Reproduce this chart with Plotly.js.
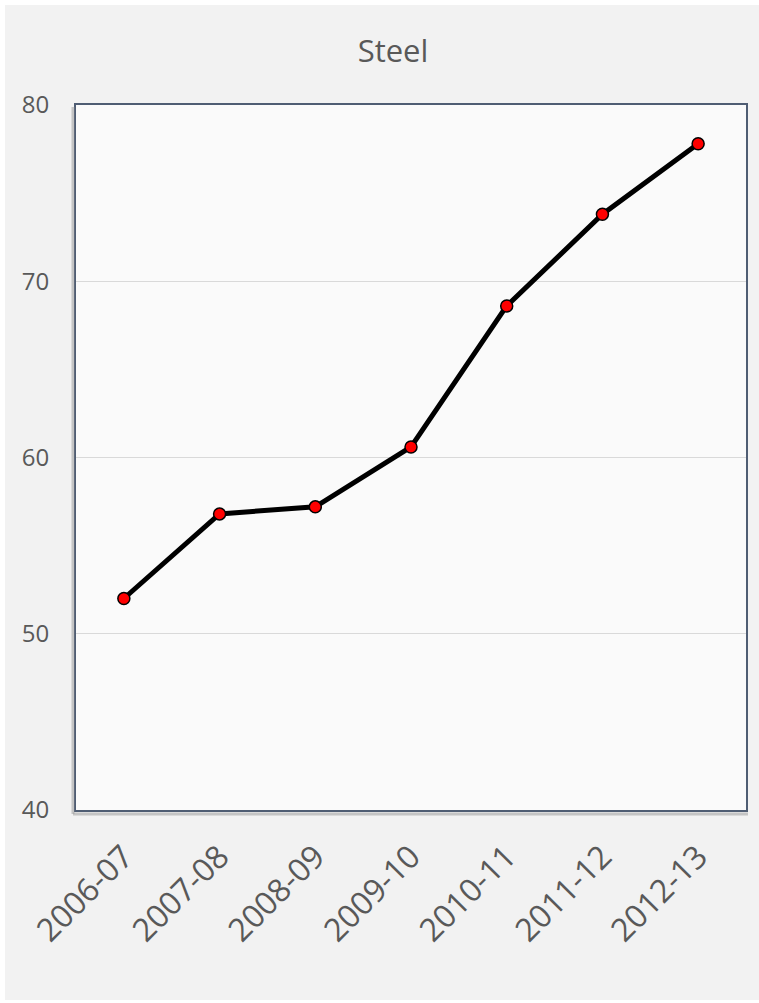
<!DOCTYPE html>
<html><head><meta charset="utf-8">
<script src="https://cdn.plot.ly/plotly-3.0.1.min.js"></script>
<style>
html,body{margin:0;padding:0;background:#ffffff;}
#chart{position:absolute;left:5px;top:5px;width:754px;height:995px;}
</style></head>
<body><div id="chart"></div>
<script>
var categories = ['2006-07','2007-08','2008-09','2009-10','2010-11','2011-12','2012-13'];
var steelValues = [52.0, 56.8, 57.2, 60.6, 68.6, 73.8, 77.8];
var yTickValues = [40, 50, 60, 70, 80];
var chartTitle = 'Steel';

var fontFam = '"Open Sans", sans-serif';
var trace = {
  x: categories, y: steelValues, type: 'scatter', mode: 'lines+markers',
  line: {color: '#000000', width: 5},
  marker: {color: '#ff0000', size: 12, line: {color: '#000000', width: 1.5}},
  cliponaxis: false, hoverinfo: 'skip'
};
var pw = 670, ph = 705;
var layout = {
  width: 754, height: 995,
  paper_bgcolor: '#f2f2f2', plot_bgcolor: '#fafafa',
  margin: {l: 71, r: 13, t: 100, b: 190},
  showlegend: false,
  title: {text: chartTitle, font: {family: fontFam, size: 31, color: '#595959'},
          x: 388/754, xanchor: 'center', y: 1 - 46/995, yanchor: 'middle', yref: 'container', xref: 'container'},
  xaxis: {type: 'category', range: [-0.5, 6.5], tickangle: -45,
          tickfont: {family: fontFam, size: 32, color: '#595959'},
          showgrid: false, zeroline: false,
          showline: true, mirror: true, linecolor: '#4f5d73', linewidth: 2,
          ticks: 'outside', ticklen: 13, tickcolor: 'rgba(0,0,0,0)'},
  yaxis: {range: [40, 80], tickvals: yTickValues,
          tickfont: {family: fontFam, size: 24, color: '#595959'},
          showgrid: true, gridcolor: '#d9d9d9', gridwidth: 1, zeroline: false,
          showline: true, mirror: true, linecolor: '#4f5d73', linewidth: 2,
          ticks: 'outside', ticklen: 20, tickcolor: 'rgba(0,0,0,0)'},
  shapes: [
    {type: 'line', xref: 'paper', yref: 'paper', x0: -3/pw, x1: -3/pw, y0: -4/ph, y1: 1 - 2/ph,
     line: {color: 'rgba(150,150,150,0.5)', width: 3}},
    {type: 'line', xref: 'paper', yref: 'paper', x0: -3/pw, x1: 1 + 2/pw, y0: -4/ph, y1: -4/ph,
     line: {color: 'rgba(150,150,150,0.5)', width: 3}}
  ]
};
Plotly.newPlot('chart', [trace], layout, {displayModeBar: false, staticPlot: true});
</script></body></html>
